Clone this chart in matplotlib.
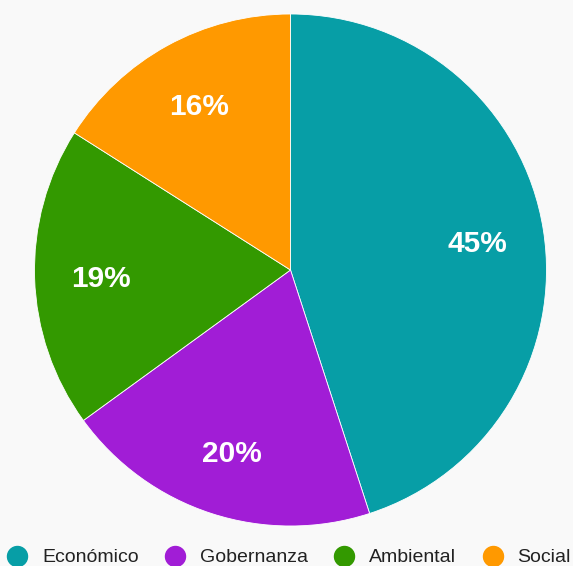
import matplotlib.pyplot as plt
import matplotlib.transforms as mtransforms
from matplotlib.lines import Line2D

labels = ["Económico", "Gobernanza", "Ambiental", "Social"]
values = [45, 20, 19, 16]
colors = ["#079ea6", "#a11dd6", "#339900", "#ff9900"]

plt.rcParams["font.family"] = ["Liberation Sans", "DejaVu Sans"]

fig = plt.figure(figsize=(5.73, 5.66), dpi=100, facecolor="#f9f9f9")
ax = fig.add_axes([34.5 / 573, 40 / 566, 512 / 573, 512 / 566])
ax.set_facecolor("#f9f9f9")

wedges, texts, autotexts = ax.pie(
    values, colors=colors, startangle=90, counterclock=False,
    autopct="%d%%", pctdistance=0.74, radius=1.0,
    wedgeprops=dict(edgecolor="white", linewidth=0.6),
    textprops=dict(color="white", fontsize=21.5, fontweight="bold"),
)
# nudge the percentage labels down a few pixels
shift = mtransforms.ScaledTranslation(0, -3.5 / 100, fig.dpi_scale_trans)
for t in autotexts:
    t.set_transform(t.get_transform() + shift)

ax.set_xlim(-1, 1)
ax.set_ylim(-1, 1)
ax.set_aspect("equal")

handles = [Line2D([], [], marker="o", linestyle="none", markersize=14.4,
                  markerfacecolor=c, markeredgecolor=c) for c in colors]
fig.legend(handles, labels, loc="center", bbox_to_anchor=(289 / 573, 8.5 / 566),
           ncol=4, frameon=False, fontsize=14, handletextpad=0.77,
           columnspacing=1.35, handlelength=1.03, borderaxespad=0,
           borderpad=0, labelcolor="#222222")

fig.savefig("out.png", dpi=100, facecolor=fig.get_facecolor())
